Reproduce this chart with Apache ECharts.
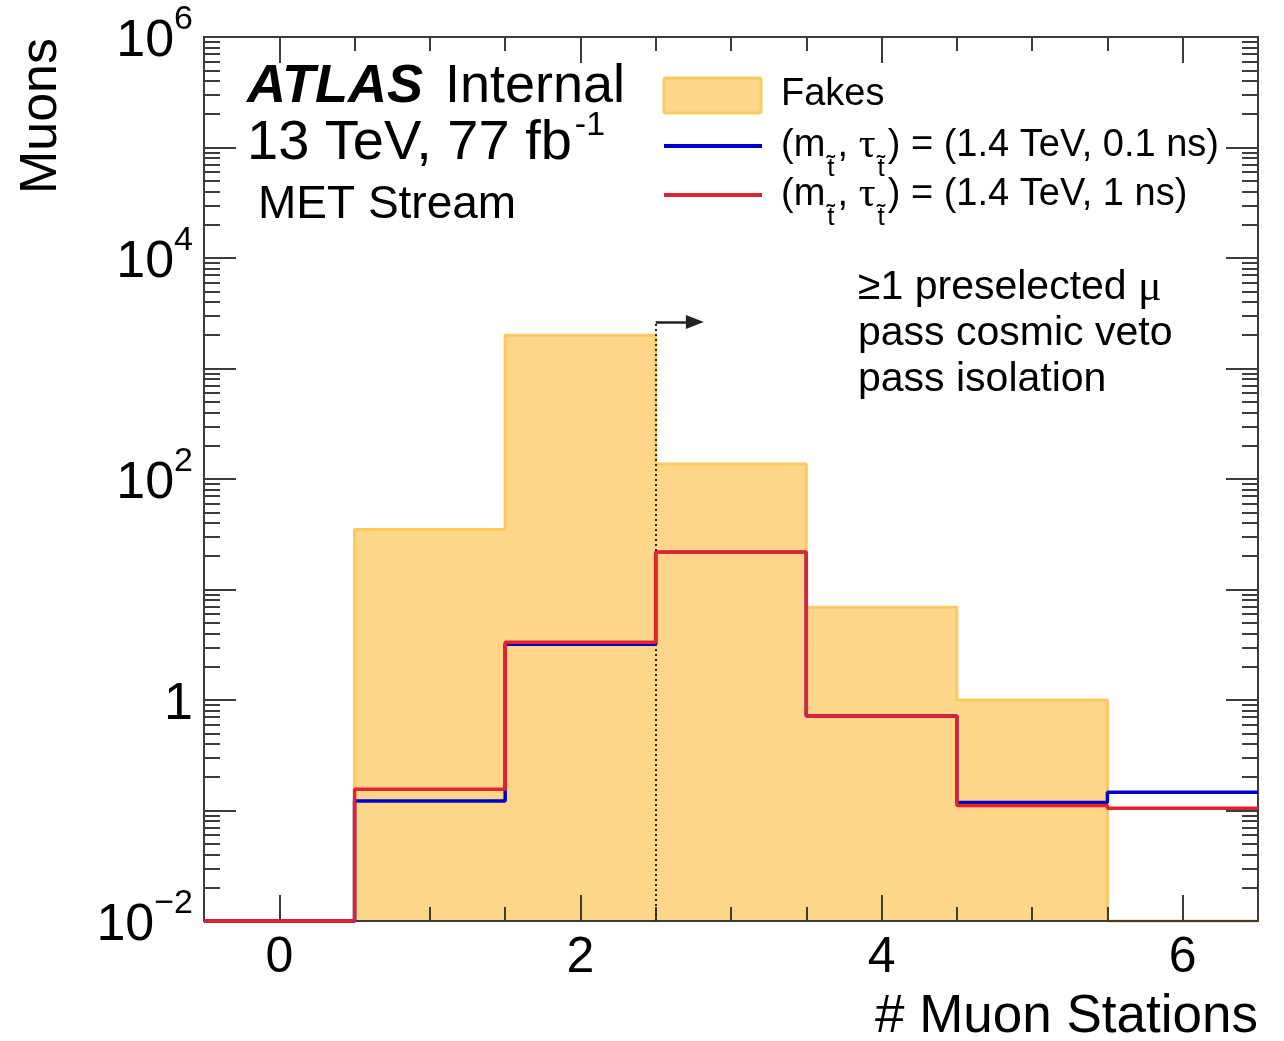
<!DOCTYPE html>
<html>
<head>
<meta charset="utf-8">
<script src="https://cdn.jsdelivr.net/npm/echarts@6/dist/echarts.min.js"></script>
<style>
  html, body { margin: 0; padding: 0; background: #fff; }
  #chart { width: 1284px; height: 1041px; }
</style>
</head>
<body>
<div id="chart"></div>
<script>
// histogram bins (# muon stations), edges at half-integers
var binEdges = [-0.5, 0.5, 1.5, 2.5, 3.5, 4.5, 5.5, 6.5];
var fakes = [0, 35, 2000, 137, 6.9, 1.0, 0];
var stop01ns = [0, 0.122, 3.2, 21.7, 0.716, 0.118, 0.146];
var stop1ns = [0, 0.156, 3.33, 21.7, 0.716, 0.111, 0.105];

var xMajorTicks = [0, 2, 4, 6];
var xMinorTicks = [0.5, 1, 1.5, 2.5, 3, 3.5, 4.5, 5, 5.5];
var yLabelValues = [1e-2, 1, 1e2, 1e4, 1e6];
var yMin = 1e-2;
var yMax = 1e6;

// selection cut marker
var cutValue = 2.5;
var arrowLevel = 2640;
var arrowEnd = 2.76;

var yMajorTicks = [];
var yMinorTicks = [];
for (var d = -2; d <= 6; d++) {
  yMajorTicks.push(Math.pow(10, d));
  if (d < 6) {
    for (var k = 2; k <= 9; k++) yMinorTicks.push(k * Math.pow(10, d));
  }
}

var font = "'Liberation Sans', Arial, Helvetica, sans-serif";
var serif = "'Liberation Serif', 'DejaVu Serif', serif";
var axisColor = '#3c3c3c';
var fillColor = '#fdd68a';
var edgeColor = '#ffc85e';
var blue = '#0000cc';
var red = '#e2232b';

function stepData(vals) {
  var pts = vals.map(function(v, i) {
    return [binEdges[i], v > 0 ? v : yMin];
  });
  pts.push([binEdges[binEdges.length - 1], pts[pts.length - 1][1]]);
  return pts;
}

function xAxis(pos, ticks, len, withLabels) {
  return {
    type: 'value',
    min: -0.5,
    max: 6.5,
    position: pos,
    z: 3,
    axisLine: { show: true, onZero: false, lineStyle: { color: axisColor, width: 2 } },
    axisTick: { show: true, inside: true, length: len, customValues: ticks, lineStyle: { color: axisColor, width: 2 } },
    axisLabel: withLabels ? {
      show: true,
      customValues: xMajorTicks,
      margin: 12,
      color: '#000',
      fontFamily: font,
      fontSize: 50
    } : { show: false },
    splitLine: { show: false }
  };
}

function yAxis(pos, ticks, len, withLabels) {
  return {
    type: 'log',
    logBase: 10,
    min: yMin,
    max: yMax,
    position: pos,
    z: 3,
    axisLine: { show: true, onZero: false, lineStyle: { color: axisColor, width: 2 } },
    axisTick: { show: true, inside: true, length: len, customValues: ticks, lineStyle: { color: axisColor, width: 2 } },
    axisLabel: withLabels ? {
      show: true,
      customValues: yLabelValues,
      margin: 11,
      hideOverlap: false,
      formatter: function(v) {
        var e = Math.round(Math.log(v) / Math.LN10);
        if (e === 0) return '{n|1}';
        return '{n|10}{s|' + (e < 0 ? '\u2212' + (-e) : e) + '}';
      },
      rich: {
        n: { fontFamily: font, fontSize: 52, color: '#000', padding: [10, 0, 0, 0] },
        s: { fontFamily: font, fontSize: 34, color: '#000', padding: [0, 0, 34, 0] }
      }
    } : { show: false },
    splitLine: { show: false },
    minorTick: { show: false }
  };
}

function legendLabel(tail) {
  return {
    text: '{a|(m}{t|t\u0303}{a|, }{g|\u03c4}{t|t\u0303}{a|) = (1.4 TeV, ' + tail + ')}',
    align: 'left',
    verticalAlign: 'middle',
    rich: {
      a: { font: '38px ' + font, fill: '#000' },
      g: { font: '42px ' + serif, fill: '#000' },
      t: { font: '26px ' + font, fill: '#000', padding: [46, 3, 0, 2] }
    }
  };
}

var chart = echarts.init(document.getElementById('chart'), null, { renderer: 'canvas' });

chart.setOption({
  animation: false,
  backgroundColor: '#fff',
  grid: { left: 204, top: 37, width: 1054, height: 884, containLabel: false, outerBoundsMode: 'none' },
  xAxis: [
    xAxis('bottom', xMajorTicks, 26, true),
    xAxis('bottom', xMinorTicks, 14, false),
    xAxis('top', xMajorTicks, 26, false),
    xAxis('top', xMinorTicks, 14, false)
  ],
  yAxis: [
    yAxis('left', yMajorTicks, 32, true),
    yAxis('left', yMinorTicks, 16, false),
    yAxis('right', yMajorTicks, 32, false),
    yAxis('right', yMinorTicks, 16, false)
  ],
  series: [
    {
      name: 'Fakes',
      type: 'line',
      step: 'end',
      z: 2,
      symbol: 'none',
      clip: false,
      data: stepData(fakes),
      lineStyle: { color: edgeColor, width: 3 },
      areaStyle: { color: fillColor, opacity: 1, origin: 'start' }
    },
    {
      name: '(1.4 TeV, 0.1 ns)',
      type: 'line',
      step: 'end',
      z: 4,
      symbol: 'none',
      clip: false,
      data: stepData(stop01ns),
      lineStyle: { color: blue, width: 3.5 }
    },
    {
      name: '(1.4 TeV, 1 ns)',
      type: 'line',
      step: 'end',
      z: 5,
      symbol: 'none',
      clip: false,
      data: stepData(stop1ns),
      lineStyle: { color: red, width: 3.5 },
      markLine: {
        silent: true,
        animation: false,
        symbol: 'none',
        label: { show: false },
        emphasis: { disabled: true },
        data: [
          [
            { coord: [cutValue, yMin], lineStyle: { type: [2, 3], color: '#222', width: 2 } },
            { coord: [cutValue, arrowLevel] }
          ],
          [
            { coord: [cutValue, arrowLevel], symbol: 'none', lineStyle: { type: 'solid', color: '#222', width: 2.5 } },
            { coord: [arrowEnd, arrowLevel], symbol: 'triangle', symbolSize: [14, 18] }
          ]
        ]
      }
    }
  ],
  graphic: [
    // y axis title
    { type: 'text', x: 42, y: 38, rotation: Math.PI / 2,
      style: { text: 'Muons', font: '52px ' + font, fill: '#000', align: 'right', verticalAlign: 'middle' } },
    // x axis title
    { type: 'text', x: 1258, y: 1017,
      style: { text: '# Muon Stations', font: '53px ' + font, fill: '#000', align: 'right', verticalAlign: 'middle' } },
    // ATLAS label
    { type: 'text', x: 247, y: 87,
      style: { text: 'ATLAS', font: 'italic bold 54px ' + font, fill: '#000', align: 'left', verticalAlign: 'middle' } },
    { type: 'text', x: 445, y: 87,
      style: { text: 'Internal', font: '54px ' + font, fill: '#000', align: 'left', verticalAlign: 'middle' } },
    { type: 'text', x: 247, y: 144,
      style: {
        text: '{a|13 TeV, 77 fb}{s|-1}',
        align: 'left', verticalAlign: 'middle',
        rich: {
          a: { font: '56px ' + font, fill: '#000' },
          s: { font: '34px ' + font, fill: '#000', padding: [0, 0, 36, 3] }
        }
      } },
    { type: 'text', x: 258, y: 205,
      style: { text: 'MET Stream', font: '46px ' + font, fill: '#000', align: 'left', verticalAlign: 'middle' } },
    // legend
    { type: 'rect', shape: { x: 664, y: 78, width: 97, height: 35, r: 2 },
      style: { fill: fillColor, stroke: edgeColor, lineWidth: 3 } },
    { type: 'text', x: 781, y: 95,
      style: { text: 'Fakes', font: '38px ' + font, fill: '#000', align: 'left', verticalAlign: 'middle' } },
    { type: 'line', shape: { x1: 664, y1: 146, x2: 762, y2: 146 }, style: { stroke: blue, lineWidth: 4 } },
    { type: 'text', x: 781, y: 146, style: legendLabel('0.1 ns') },
    { type: 'line', shape: { x1: 664, y1: 195, x2: 762, y2: 195 }, style: { stroke: red, lineWidth: 4 } },
    { type: 'text', x: 781, y: 195, style: legendLabel('1 ns') },
    // selection text
    { type: 'text', x: 858, y: 288,
      style: {
        text: '{a|\u22651 preselected }{g|\u03bc}',
        align: 'left', verticalAlign: 'middle',
        rich: {
          a: { font: '41px ' + font, fill: '#000' },
          g: { font: '44px ' + serif, fill: '#000' }
        }
      } },
    { type: 'text', x: 858, y: 334,
      style: { text: 'pass cosmic veto', font: '41px ' + font, fill: '#000', align: 'left', verticalAlign: 'middle' } },
    { type: 'text', x: 858, y: 380,
      style: { text: 'pass isolation', font: '41px ' + font, fill: '#000', align: 'left', verticalAlign: 'middle' } }
  ]
});

window.addEventListener('resize', function() {
  chart.resize();
});
</script>
</body>
</html>
